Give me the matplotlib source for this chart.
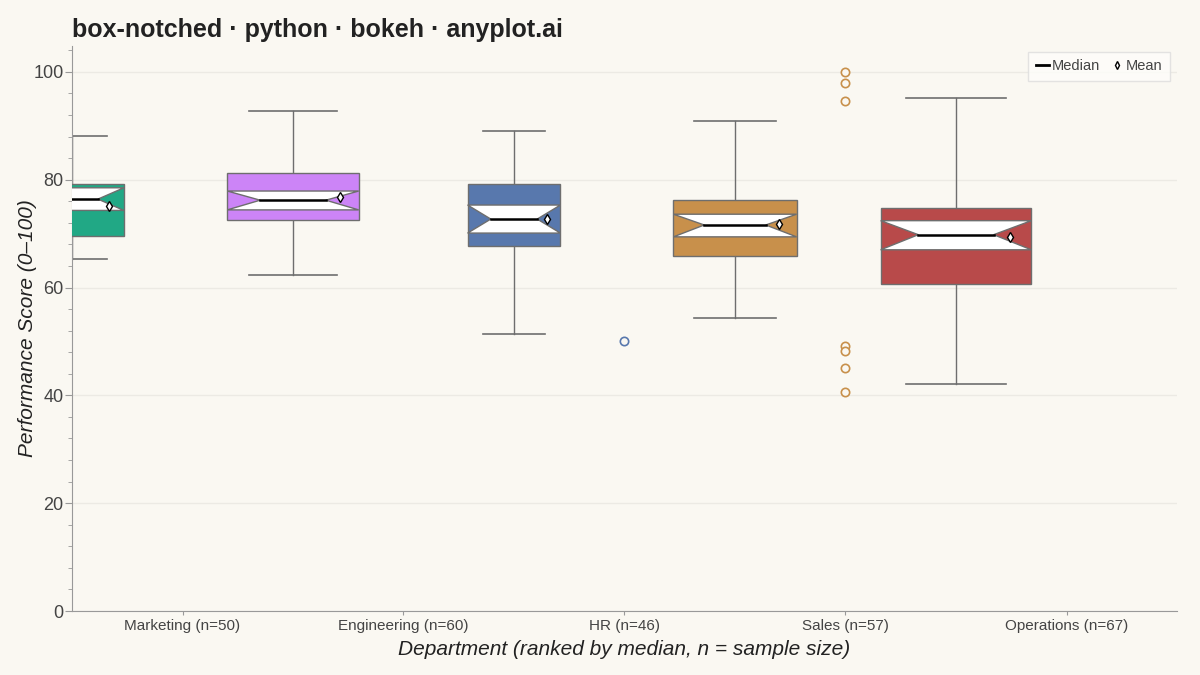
import matplotlib.pyplot as plt
from matplotlib.patches import Rectangle, Polygon
from matplotlib.lines import Line2D
from matplotlib.ticker import MultipleLocator

plt.rcParams['font.family'] = ['Liberation Sans', 'DejaVu Sans']

# --- data ---
departments = ["Marketing", "Engineering", "HR", "Sales", "Operations"]
counts = [50, 60, 46, 57, 67]
colors = ["#21A885", "#CC84F7", "#5878AD", "#C8904B", "#B84A4A"]
q1 = [69.6, 72.5, 67.7, 65.9, 60.7]
q3 = [79.2, 81.2, 79.2, 76.3, 74.8]
medians = [76.4, 76.2, 72.7, 71.6, 69.8]
notch_lo = [74.3, 74.4, 70.1, 69.4, 67.0]
notch_hi = [78.5, 77.9, 75.3, 73.6, 72.4]
whisk_lo = [65.3, 62.3, 51.3, 54.4, 42.1]
whisk_hi = [88.1, 92.8, 89.1, 90.8, 95.2]
means = [75.1, 76.8, 72.8, 71.7, 69.3]
outliers = [[], [], [50.0], [100.0, 98.0, 94.6, 49.2, 48.2, 45.0, 40.6], []]

bg = "#FAF8F2"
edge = "#6E6E6E"

fig = plt.figure(figsize=(12, 6.75), dpi=100, facecolor=bg)
ax = fig.add_axes([72 / 1200, 64 / 675, 1105 / 1200, 565 / 675], facecolor=bg)
ax.set_xlim(0, 5)
ax.set_ylim(0, 104.8)

n_min, n_max = min(counts), max(counts)
for i, dept in enumerate(departments):
    # box width grows with sample size
    w = 0.42 + 0.262 * (counts[i] - n_min) / (n_max - n_min)
    left, right = i - w / 2, i + w / 2
    ind = w / 4
    cap = w / 3

    # whiskers
    ax.plot([i, i], [q3[i], whisk_hi[i]], color=edge, lw=1, zorder=2)
    ax.plot([i, i], [q1[i], whisk_lo[i]], color=edge, lw=1, zorder=2)
    ax.plot([i - cap, i + cap], [whisk_hi[i]] * 2, color=edge, lw=1.2, zorder=2)
    ax.plot([i - cap, i + cap], [whisk_lo[i]] * 2, color=edge, lw=1.2, zorder=2)

    # box + notch
    ax.add_patch(Rectangle((left, q1[i]), w, q3[i] - q1[i], facecolor=colors[i],
                           edgecolor=edge, lw=1, zorder=3))
    notch = [(left, notch_hi[i]), (left + ind, medians[i]), (left, notch_lo[i]),
             (right, notch_lo[i]), (right - ind, medians[i]), (right, notch_hi[i])]
    ax.add_patch(Polygon(notch, closed=True, facecolor="white", edgecolor=edge,
                         lw=1, zorder=4))
    ax.plot([left + ind, right - ind], [medians[i]] * 2, color="black", lw=1.8, zorder=5)

    # mean marker
    ax.plot(i + 0.36 * w, means[i], marker="d", ms=5.5, mfc="white", mec="black",
            mew=1, zorder=6)

    # outliers (drawn at the tick position)
    if outliers[i]:
        ax.plot([i + 0.5] * len(outliers[i]), outliers[i], ls="none", marker="o",
                ms=6, mfc=bg, mec=colors[i], mew=1.2, zorder=6)

ax.set_xticks([i + 0.5 for i in range(len(departments))])
ax.set_xticklabels([f"{d} (n={n})" for d, n in zip(departments, counts)])
ax.yaxis.set_major_locator(MultipleLocator(20))
ax.yaxis.set_minor_locator(MultipleLocator(4))
ax.tick_params(axis="x", length=3, color="#999999", labelsize=11, labelcolor="#444444", pad=2.5)
ax.tick_params(axis="y", which="major", length=5, color="#999999", labelsize=13,
               labelcolor="#444444", pad=1)
ax.tick_params(axis="y", which="minor", length=3, color="#999999")
ax.grid(axis="y", color="#ECEAE4", lw=1)
ax.set_axisbelow(True)

for s in ["top", "right"]:
    ax.spines[s].set_visible(False)
for s in ["left", "bottom"]:
    ax.spines[s].set_color("#999999")

ax.set_xlabel("Department (ranked by median, n = sample size)", fontsize=15,
              style="italic", color="#222222", labelpad=5)
ax.set_ylabel("Performance Score (0–100)", fontsize=15, style="italic",
              color="#222222", labelpad=-2.5)
fig.text(72 / 1200, 1 - 30 / 675, "box-notched · python · bokeh · anyplot.ai",
         fontsize=18, fontweight="bold", color="#222222", va="center")

handles = [Line2D([], [], color="black", lw=2),
           Line2D([], [], ls="none", marker="d", ms=4, mfc="white", mec="black")]
leg = ax.legend(handles, ["Median", "Mean"], loc="upper right", ncol=2,
                fontsize=10.5, frameon=True, fancybox=False, handlelength=0.9,
                handletextpad=0.2, columnspacing=0.7, borderpad=0.5,
                borderaxespad=0, bbox_to_anchor=(1 - 7 / 1105, 1 - 6 / 565))
leg.get_frame().set_facecolor("#FEFDFA")
leg.get_frame().set_edgecolor("#DDDDDD")
for t in leg.get_texts():
    t.set_color("#444444")

fig.savefig("out.png", dpi=100, facecolor=bg)
